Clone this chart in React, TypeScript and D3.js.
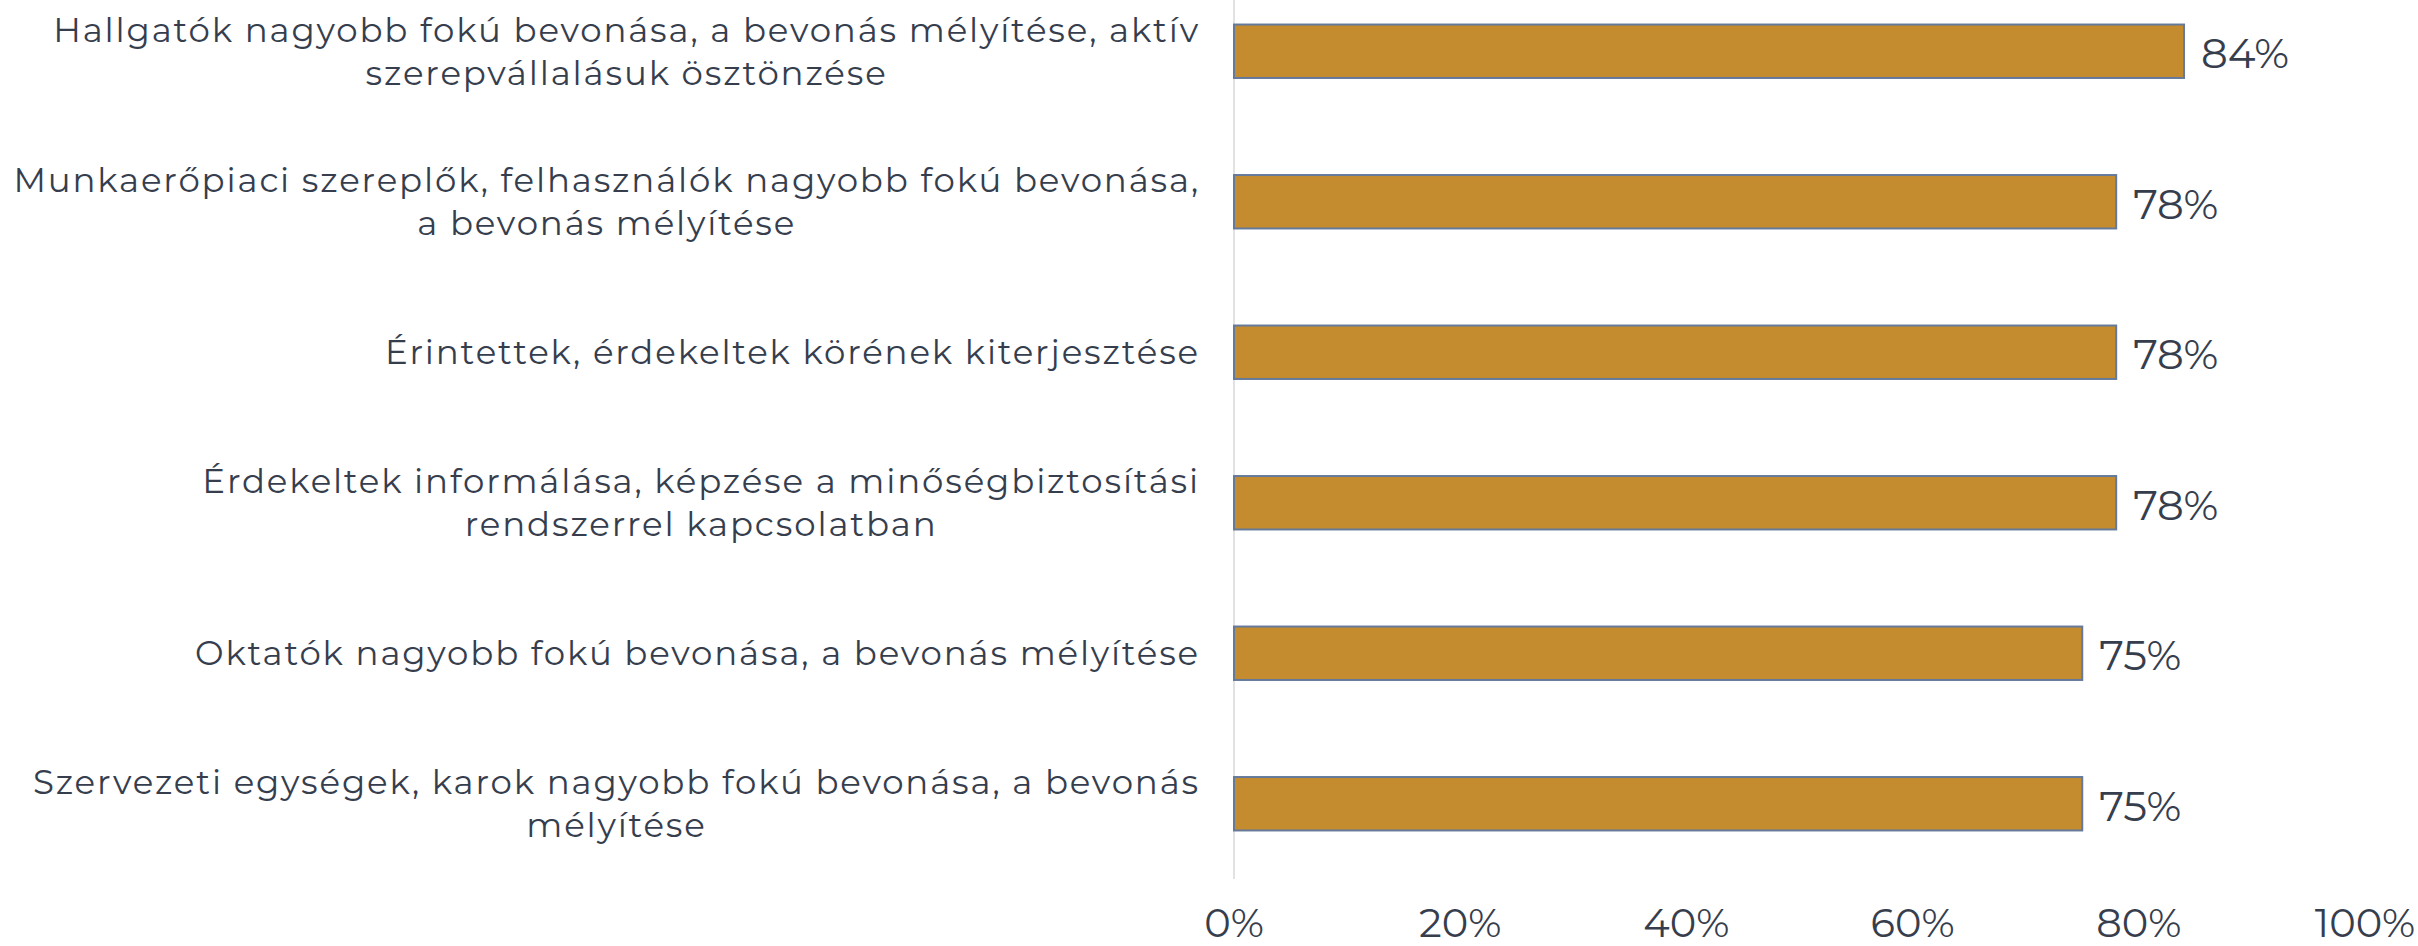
import React, { useEffect, useRef } from "react";
import * as d3 from "d3";

const categories: string[][] = [
  ["Hallgatók nagyobb fokú bevonása, a bevonás mélyítése, aktív", "szerepvállalásuk ösztönzése"],
  ["Munkaerőpiaci szereplők, felhasználók nagyobb fokú bevonása,", "a bevonás mélyítése"],
  ["Érintettek, érdekeltek körének kiterjesztése"],
  ["Érdekeltek informálása, képzése a minőségbiztosítási", "rendszerrel kapcsolatban"],
  ["Oktatók nagyobb fokú bevonása, a bevonás mélyítése"],
  ["Szervezeti egységek, karok nagyobb fokú bevonása, a bevonás", "mélyítése"],
];
const values: number[] = [0.84, 0.78, 0.78, 0.78, 0.75, 0.75];
const ticks: number[] = [0, 0.2, 0.4, 0.6, 0.8, 1.0];

const W = 2418;
const H = 946;
const FONT = "'Montserrat', 'Open Sans', 'Noto Sans', sans-serif";
const TEXT = "#363e4e";

export default function App() {
  const ref = useRef<SVGSVGElement | null>(null);

  useEffect(() => {
    const svg = d3.select(ref.current);
    svg.selectAll("*").remove();

    const x = d3.scaleLinear().domain([0, 1]).range([1234, 2365]);
    const y = d3
      .scaleBand<number>()
      .domain(d3.range(values.length))
      .range([-24, 879])
      .paddingInner(0.645)
      .paddingOuter(0.3225);

    // axis line
    svg
      .append("line")
      .attr("x1", x(0))
      .attr("x2", x(0))
      .attr("y1", 0)
      .attr("y2", 879)
      .attr("stroke", "#d9d9d9")
      .attr("stroke-width", 1.5);

    // bars
    svg
      .selectAll("rect.bar")
      .data(values)
      .enter()
      .append("rect")
      .attr("class", "bar")
      .attr("x", x(0))
      .attr("y", (_, i) => y(i)!)
      .attr("width", (d) => x(d) - x(0))
      .attr("height", y.bandwidth())
      .attr("fill", "#c48c2e")
      .attr("stroke", "#65799a")
      .attr("stroke-width", 2);

    // value labels
    svg
      .selectAll("text.val")
      .data(values)
      .enter()
      .append("text")
      .attr("class", "val")
      .attr("x", (d) => x(d) + 17)
      .attr("y", (_, i) => y(i)! + y.bandwidth() / 2 + 2)
      .attr("dominant-baseline", "central")
      .attr("font-family", FONT)
      .attr("font-size", 42)
      .attr("fill", TEXT)
      .text((d) => d3.format(".0%")(d));

    // tick labels
    svg
      .selectAll("text.tick")
      .data(ticks)
      .enter()
      .append("text")
      .attr("class", "tick")
      .attr("x", (d) => x(d))
      .attr("y", 937)
      .attr("text-anchor", "middle")
      .attr("font-family", FONT)
      .attr("font-size", 40)
      .attr("fill", TEXT)
      .text((d) => d3.format(".0%")(d));

    // category labels
    const rightEdge = 1200;
    const lineH = 43;
    categories.forEach((lines, i) => {
      const cy = y(i)! + y.bandwidth() / 2;
      const g = svg.append("g");
      const texts = lines.map((ln, j) =>
        g
          .append("text")
          .attr("y", cy + (j - (lines.length - 1) / 2) * lineH)
          .attr("dominant-baseline", "central")
          .attr("text-anchor", "middle")
          .attr("font-family", FONT)
          .attr("font-size", 34)
          .attr("letter-spacing", 1.85)
          .attr("fill", TEXT)
          .text(ln)
      );
      const maxW = d3.max(texts, (t) => (t.node() as SVGTextElement).getComputedTextLength()) || 0;
      texts.forEach((t) => t.attr("x", rightEdge - maxW / 2));
    });
  }, []);

  return (
    <svg
      ref={ref}
      width={W}
      height={H}
      style={{ position: "absolute", left: 0, top: 0, background: "#fff" }}
    />
  );
}
